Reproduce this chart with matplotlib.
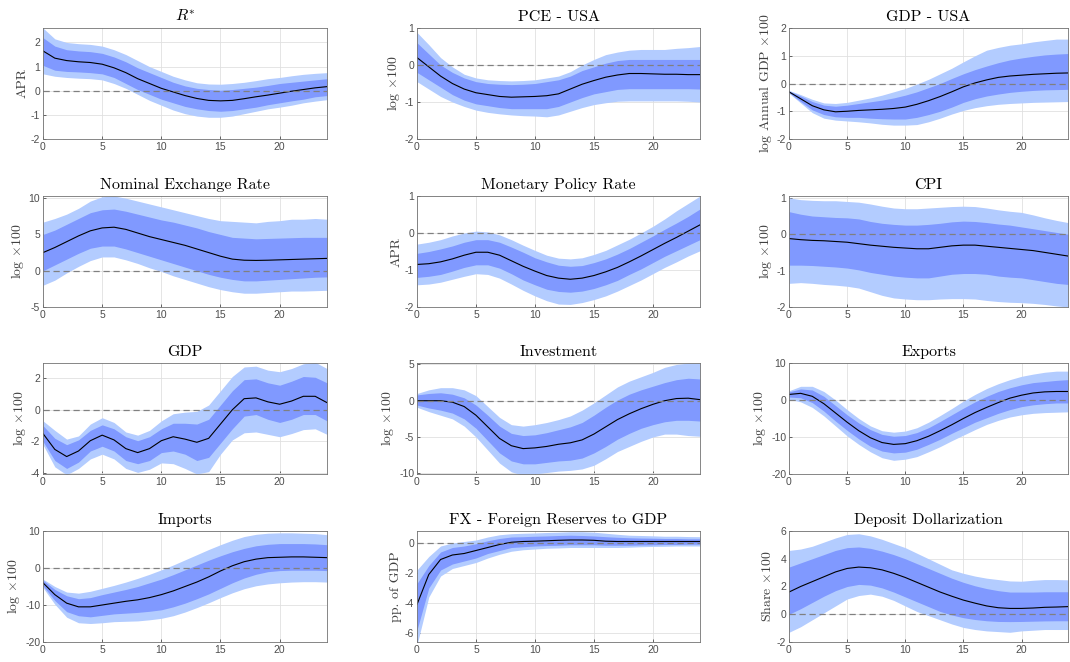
import numpy as np
import matplotlib
matplotlib.use("Agg")
import matplotlib.pyplot as plt

plt.rcParams["mathtext.fontset"] = "cm"
plt.rcParams["axes.unicode_minus"] = False
plt.rcParams["font.family"] = "Liberation Sans"

horizon = np.arange(25)

# --- R* ---
rstar_med = [1.65, 1.35, 1.25, 1.2, 1.17, 1.1, 0.95, 0.75, 0.5, 0.3, 0.1, -0.05, -0.2,
             -0.32, -0.4, -0.42, -0.4, -0.33, -0.25, -0.18, -0.1, -0.02, 0.05, 0.12, 0.17]
rstar_hi68 = [2.2, 1.85, 1.7, 1.65, 1.62, 1.55, 1.4, 1.2, 0.95, 0.75, 0.55, 0.35, 0.2,
              0.1, 0.05, 0.02, 0.05, 0.1, 0.15, 0.22, 0.3, 0.35, 0.4, 0.45, 0.5]
rstar_lo68 = [1.05, 0.85, 0.8, 0.78, 0.75, 0.7, 0.55, 0.3, 0.05, -0.15, -0.35, -0.5, -0.65,
              -0.75, -0.82, -0.85, -0.82, -0.75, -0.68, -0.58, -0.5, -0.42, -0.35, -0.25, -0.2]
rstar_hi90 = [2.6, 2.15, 2.0, 1.95, 1.92, 1.85, 1.7, 1.5, 1.25, 1.0, 0.8, 0.6, 0.45,
              0.33, 0.28, 0.27, 0.3, 0.35, 0.42, 0.5, 0.55, 0.62, 0.68, 0.72, 0.75]
rstar_lo90 = [0.7, 0.6, 0.55, 0.52, 0.5, 0.45, 0.3, 0.1, -0.15, -0.4, -0.6, -0.8, -0.95,
              -1.05, -1.1, -1.1, -1.05, -0.95, -0.85, -0.75, -0.68, -0.6, -0.5, -0.43, -0.37]

# --- PCE - USA ---
pce_med = [0.2, -0.05, -0.3, -0.5, -0.65, -0.75, -0.8, -0.85, -0.87, -0.86, -0.85, -0.83, -0.78,
           -0.65, -0.52, -0.42, -0.33, -0.27, -0.23, -0.23, -0.24, -0.25, -0.25, -0.26, -0.26]
pce_hi68 = [0.6, 0.3, 0.0, -0.2, -0.35, -0.45, -0.5, -0.52, -0.53, -0.52, -0.5, -0.45, -0.4,
            -0.3, -0.15, -0.05, 0.05, 0.12, 0.15, 0.15, 0.15, 0.15, 0.15, 0.15, 0.15]
pce_lo68 = [-0.2, -0.4, -0.6, -0.8, -0.95, -1.05, -1.1, -1.15, -1.18, -1.18, -1.18, -1.18, -1.12,
            -1.0, -0.88, -0.78, -0.72, -0.66, -0.64, -0.64, -0.64, -0.64, -0.64, -0.64, -0.65]
pce_hi90 = [0.88, 0.55, 0.2, -0.05, -0.25, -0.35, -0.4, -0.42, -0.43, -0.42, -0.4, -0.35, -0.3,
            -0.18, 0.0, 0.15, 0.28, 0.35, 0.4, 0.42, 0.42, 0.42, 0.45, 0.47, 0.5]
pce_lo90 = [-0.45, -0.65, -0.85, -1.0, -1.12, -1.22, -1.28, -1.32, -1.35, -1.37, -1.38, -1.4, -1.35,
            -1.25, -1.15, -1.07, -1.02, -0.98, -0.97, -0.97, -0.97, -0.97, -0.97, -0.98, -1.0]

# --- GDP - USA ---
gdpus_med = [-0.3, -0.55, -0.8, -0.95, -1.02, -1.0, -0.97, -0.95, -0.93, -0.9, -0.85, -0.75, -0.62,
             -0.47, -0.3, -0.12, 0.02, 0.13, 0.22, 0.27, 0.3, 0.33, 0.35, 0.37, 0.38]
gdpus_hi68 = [-0.27, -0.45, -0.65, -0.78, -0.82, -0.78, -0.72, -0.66, -0.6, -0.52, -0.42, -0.3, -0.15,
              0.0, 0.18, 0.35, 0.5, 0.63, 0.75, 0.85, 0.92, 0.98, 1.03, 1.06, 1.08]
gdpus_lo68 = [-0.33, -0.65, -0.95, -1.12, -1.2, -1.22, -1.22, -1.25, -1.27, -1.28, -1.28, -1.22, -1.12,
              -1.0, -0.85, -0.68, -0.55, -0.45, -0.38, -0.32, -0.28, -0.25, -0.23, -0.22, -0.21]
gdpus_hi90 = [-0.25, -0.4, -0.57, -0.7, -0.72, -0.68, -0.6, -0.52, -0.42, -0.3, -0.18, -0.02, 0.15,
              0.35, 0.55, 0.78, 1.0, 1.2, 1.3, 1.38, 1.43, 1.5, 1.55, 1.6, 1.6]
gdpus_lo90 = [-0.35, -0.7, -1.05, -1.25, -1.32, -1.35, -1.38, -1.42, -1.47, -1.5, -1.5, -1.48, -1.38,
              -1.25, -1.1, -0.97, -0.87, -0.8, -0.75, -0.72, -0.7, -0.68, -0.67, -0.66, -0.65]

# --- Nominal Exchange Rate ---
ner_med = [2.5, 3.2, 4.0, 4.8, 5.5, 5.9, 6.0, 5.7, 5.2, 4.7, 4.3, 3.9, 3.5,
           3.0, 2.5, 2.0, 1.6, 1.45, 1.42, 1.45, 1.5, 1.55, 1.6, 1.65, 1.7]
ner_hi68 = [5.0, 5.6, 6.4, 7.2, 8.0, 8.4, 8.5, 8.2, 7.8, 7.4, 7.0, 6.7, 6.3,
            5.9, 5.4, 5.0, 4.6, 4.5, 4.4, 4.45, 4.5, 4.55, 4.6, 4.6, 4.6]
ner_lo68 = [0.0, 0.8, 1.6, 2.4, 3.1, 3.4, 3.4, 3.0, 2.5, 2.0, 1.5, 1.0, 0.5,
            0.0, -0.5, -0.9, -1.2, -1.4, -1.4, -1.3, -1.2, -1.1, -1.0, -0.9, -0.85]
ner_hi90 = [6.7, 7.2, 7.8, 8.6, 9.6, 10.2, 10.3, 10.0, 9.6, 9.2, 8.8, 8.4, 8.0,
            7.6, 7.2, 6.9, 6.8, 6.7, 6.6, 6.8, 6.9, 7.1, 7.1, 7.2, 7.1]
ner_lo90 = [-2.0, -1.3, -0.3, 0.6, 1.4, 1.9, 1.9, 1.5, 1.0, 0.4, -0.1, -0.7, -1.2,
            -1.7, -2.2, -2.6, -2.9, -3.1, -3.1, -3.0, -2.9, -2.8, -2.8, -2.75, -2.7]

# --- Monetary Policy Rate ---
mpr_med = [-0.85, -0.83, -0.78, -0.7, -0.6, -0.52, -0.52, -0.6, -0.75, -0.9, -1.03, -1.15, -1.22,
           -1.25, -1.22, -1.15, -1.05, -0.93, -0.78, -0.62, -0.45, -0.28, -0.12, 0.05, 0.22]
mpr_hi68 = [-0.55, -0.5, -0.43, -0.35, -0.25, -0.18, -0.18, -0.25, -0.38, -0.52, -0.67, -0.78, -0.87,
            -0.9, -0.88, -0.8, -0.7, -0.57, -0.42, -0.25, -0.08, 0.1, 0.27, 0.45, 0.65]
mpr_lo68 = [-1.2, -1.17, -1.12, -1.03, -0.93, -0.86, -0.86, -0.95, -1.1, -1.27, -1.4, -1.52, -1.58,
            -1.6, -1.57, -1.5, -1.4, -1.28, -1.12, -0.97, -0.8, -0.63, -0.48, -0.33, -0.18]
mpr_hi90 = [-0.3, -0.25, -0.18, -0.08, 0.0, 0.05, 0.03, -0.05, -0.18, -0.33, -0.47, -0.6, -0.68,
            -0.7, -0.67, -0.58, -0.47, -0.32, -0.17, 0.0, 0.18, 0.38, 0.6, 0.8, 1.0]
mpr_lo90 = [-1.4, -1.38, -1.33, -1.25, -1.17, -1.1, -1.12, -1.22, -1.38, -1.55, -1.7, -1.83, -1.92,
            -1.93, -1.88, -1.8, -1.7, -1.57, -1.42, -1.27, -1.1, -0.93, -0.78, -0.62, -0.48]

# --- CPI ---
cpi_med = [-0.12, -0.15, -0.17, -0.18, -0.2, -0.22, -0.26, -0.3, -0.33, -0.36, -0.38, -0.4, -0.4,
           -0.36, -0.32, -0.3, -0.3, -0.33, -0.36, -0.39, -0.42, -0.45, -0.5, -0.55, -0.6]
cpi_hi68 = [0.62, 0.55, 0.5, 0.48, 0.46, 0.45, 0.42, 0.35, 0.3, 0.27, 0.25, 0.25, 0.27,
            0.3, 0.34, 0.36, 0.35, 0.32, 0.28, 0.25, 0.2, 0.15, 0.1, 0.05, 0.0]
cpi_lo68 = [-0.85, -0.85, -0.86, -0.88, -0.9, -0.93, -0.98, -1.05, -1.1, -1.15, -1.18, -1.2, -1.2,
            -1.15, -1.1, -1.08, -1.08, -1.1, -1.15, -1.18, -1.2, -1.25, -1.3, -1.35, -1.38]
cpi_hi90 = [1.0, 0.95, 0.93, 0.92, 0.92, 0.9, 0.88, 0.83, 0.77, 0.72, 0.7, 0.7, 0.72,
            0.74, 0.76, 0.77, 0.76, 0.72, 0.67, 0.63, 0.6, 0.53, 0.45, 0.38, 0.32]
cpi_lo90 = [-1.35, -1.33, -1.35, -1.38, -1.4, -1.43, -1.48, -1.58, -1.68, -1.75, -1.78, -1.8, -1.8,
            -1.78, -1.77, -1.77, -1.78, -1.82, -1.85, -1.87, -1.88, -1.9, -1.93, -1.97, -2.0]

# --- GDP ---
gdp_med = [-1.5, -2.5, -2.95, -2.6, -1.95, -1.6, -1.9, -2.45, -2.7, -2.45, -1.95, -1.7, -1.85,
           -2.05, -1.8, -0.9, 0.0, 0.7, 0.75, 0.5, 0.35, 0.55, 0.85, 0.85, 0.45]
gdp_hi68 = [-1.0, -1.8, -2.2, -1.9, -1.3, -0.95, -1.2, -1.7, -1.95, -1.7, -1.2, -0.85, -0.85,
            -0.9, -0.6, 0.3, 1.2, 1.9, 1.95, 1.7, 1.55, 1.8, 2.1, 2.05, 1.7]
gdp_lo68 = [-2.0, -3.2, -3.7, -3.3, -2.6, -2.3, -2.6, -3.2, -3.4, -3.2, -2.7, -2.6, -2.8,
            -3.2, -3.0, -2.1, -1.2, -0.4, -0.3, -0.6, -0.8, -0.6, -0.3, -0.3, -0.7]
gdp_hi90 = [-0.7, -1.3, -1.85, -1.65, -0.9, -0.5, -0.8, -1.4, -1.6, -1.3, -0.7, -0.25, -0.15,
            -0.1, 0.3, 1.2, 2.1, 2.7, 2.75, 2.5, 2.4, 2.6, 2.9, 3.0, 2.6]
gdp_lo90 = [-2.2, -3.6, -4.1, -3.7, -3.1, -2.8, -3.1, -3.7, -3.95, -3.75, -3.35, -3.4, -3.7,
            -4.05, -3.9, -2.8, -1.9, -1.45, -1.4, -1.55, -1.7, -1.5, -1.25, -1.2, -1.55]

# --- Investment ---
inv_med = [0.0, 0.0, 0.0, -0.2, -0.8, -2.0, -3.6, -5.2, -6.2, -6.6, -6.5, -6.3, -6.0,
           -5.8, -5.4, -4.6, -3.6, -2.6, -1.8, -1.1, -0.5, 0.0, 0.3, 0.35, 0.15]
inv_hi68 = [0.8, 1.0, 1.1, 0.9, 0.4, -0.6, -2.0, -3.5, -4.5, -4.8, -4.7, -4.4, -4.0,
            -3.6, -3.0, -2.0, -0.9, 0.1, 0.9, 1.5, 2.0, 2.5, 2.9, 3.1, 3.0]
inv_lo68 = [-0.6, -1.0, -1.3, -1.7, -2.5, -3.8, -5.5, -7.2, -8.3, -8.7, -8.7, -8.5, -8.3,
            -8.2, -7.9, -7.2, -6.3, -5.3, -4.5, -3.8, -3.3, -2.9, -2.7, -2.7, -2.8]
inv_hi90 = [1.0, 1.5, 1.8, 1.8, 1.5, 0.7, -0.8, -2.3, -3.3, -3.5, -3.3, -3.0, -2.6,
            -2.1, -1.3, -0.3, 0.8, 1.9, 2.7, 3.3, 3.9, 4.6, 5.0, 5.2, 5.2]
inv_lo90 = [-0.9, -1.5, -2.0, -2.5, -3.5, -5.0, -6.8, -8.6, -9.8, -10.3, -10.1, -9.9, -9.7,
            -9.6, -9.4, -8.9, -8.0, -7.0, -6.3, -5.6, -5.0, -4.6, -4.6, -4.8, -4.9]

# --- Exports ---
exp_med = [1.5, 1.8, 1.0, -1.0, -3.5, -6.0, -8.3, -10.2, -11.5, -12.0, -11.8, -11.0, -9.8,
           -8.3, -6.7, -5.0, -3.4, -2.0, -0.7, 0.5, 1.3, 1.9, 2.2, 2.3, 2.3]
exp_hi68 = [2.2, 3.0, 2.7, 1.0, -1.5, -4.0, -6.2, -8.0, -9.3, -9.8, -9.6, -8.8, -7.5,
            -5.8, -4.0, -2.2, -0.5, 1.0, 2.3, 3.3, 4.1, 4.7, 5.0, 5.3, 5.5]
exp_lo68 = [0.8, 0.6, -0.7, -3.0, -5.7, -8.2, -10.5, -12.5, -13.8, -14.3, -14.1, -13.3, -12.0,
            -10.6, -9.0, -7.5, -6.0, -4.8, -3.6, -2.6, -1.8, -1.3, -1.0, -0.8, -0.8]
exp_hi90 = [2.5, 3.7, 3.7, 2.3, 0.0, -2.6, -5.0, -7.0, -8.3, -8.7, -8.4, -7.5, -6.0,
            -4.2, -2.3, -0.3, 1.5, 3.1, 4.4, 5.5, 6.4, 7.0, 7.5, 7.8, 7.8]
exp_lo90 = [0.2, -0.5, -2.0, -4.3, -7.0, -9.7, -12.0, -14.0, -15.6, -16.3, -16.0, -15.3, -14.0,
            -12.6, -11.0, -9.5, -8.0, -6.6, -5.5, -4.6, -4.0, -3.6, -3.4, -3.3, -3.2]

# --- Imports ---
imp_med = [-4.0, -7.2, -9.5, -10.5, -10.5, -10.0, -9.5, -9.0, -8.6, -8.0, -7.2, -6.2, -5.0,
           -3.8, -2.4, -0.8, 0.6, 1.7, 2.4, 2.8, 2.9, 3.0, 3.0, 2.9, 2.8]
imp_hi68 = [-3.3, -5.8, -7.5, -8.3, -8.0, -7.2, -6.5, -5.8, -5.0, -4.0, -3.0, -1.8, -0.5,
            0.8, 2.1, 3.3, 4.4, 5.3, 6.0, 6.4, 6.6, 6.6, 6.6, 6.5, 6.3]
imp_lo68 = [-4.8, -8.8, -11.8, -12.9, -13.2, -12.8, -12.4, -12.2, -12.0, -11.7, -11.3, -10.5, -9.5,
            -8.3, -7.0, -5.5, -4.0, -2.7, -1.7, -1.0, -0.7, -0.6, -0.6, -0.6, -0.7]
imp_hi90 = [-3.0, -5.0, -6.5, -6.8, -6.3, -5.5, -4.7, -3.8, -2.8, -1.7, -0.5, 0.8, 2.2,
            3.6, 5.0, 6.3, 7.5, 8.5, 9.1, 9.4, 9.5, 9.5, 9.4, 9.3, 9.0]
imp_lo90 = [-5.3, -9.8, -13.3, -14.8, -15.0, -14.8, -14.5, -14.4, -14.3, -14.0, -13.6, -12.9, -11.9,
            -10.7, -9.4, -8.0, -6.7, -5.6, -4.8, -4.3, -4.0, -3.8, -3.7, -3.7, -3.8]

# --- FX - Foreign Reserves to GDP ---
fxr_med = [-4.1, -2.1, -1.1, -0.8, -0.7, -0.5, -0.3, -0.1, 0.05, 0.1, 0.12, 0.15, 0.18,
           0.2, 0.2, 0.18, 0.12, 0.1, 0.1, 0.1, 0.1, 0.1, 0.1, 0.1, 0.1]
fxr_hi68 = [-2.7, -1.5, -0.6, -0.3, -0.2, -0.05, 0.15, 0.3, 0.4, 0.42, 0.45, 0.47, 0.5,
            0.52, 0.5, 0.47, 0.42, 0.38, 0.35, 0.33, 0.32, 0.3, 0.3, 0.28, 0.28]
fxr_lo68 = [-5.8, -3.0, -1.8, -1.4, -1.2, -1.0, -0.7, -0.5, -0.3, -0.25, -0.2, -0.17, -0.15,
            -0.12, -0.12, -0.12, -0.15, -0.15, -0.15, -0.13, -0.12, -0.1, -0.1, -0.08, -0.08]
fxr_hi90 = [-1.8, -0.9, -0.2, 0.0, 0.1, 0.2, 0.4, 0.55, 0.62, 0.65, 0.67, 0.7, 0.72,
            0.75, 0.75, 0.72, 0.65, 0.58, 0.52, 0.5, 0.48, 0.45, 0.45, 0.43, 0.42]
fxr_lo90 = [-6.8, -3.6, -2.2, -1.7, -1.5, -1.3, -1.0, -0.75, -0.55, -0.45, -0.4, -0.35, -0.33,
            -0.3, -0.3, -0.3, -0.3, -0.3, -0.28, -0.25, -0.23, -0.22, -0.2, -0.2, -0.2]

# --- Deposit Dollarization ---
dd_med = [1.6, 2.0, 2.35, 2.7, 3.05, 3.3, 3.4, 3.35, 3.2, 2.95, 2.65, 2.3, 1.95,
          1.6, 1.3, 1.02, 0.8, 0.6, 0.47, 0.42, 0.42, 0.45, 0.5, 0.52, 0.55]
dd_hi68 = [3.4, 3.7, 4.0, 4.3, 4.6, 4.8, 4.85, 4.75, 4.55, 4.3, 4.0, 3.65, 3.3,
           2.95, 2.6, 2.3, 2.05, 1.85, 1.7, 1.6, 1.6, 1.6, 1.62, 1.62, 1.62]
dd_lo68 = [0.0, 0.4, 0.85, 1.3, 1.7, 2.0, 2.15, 2.1, 1.9, 1.6, 1.25, 0.9, 0.55,
           0.2, -0.05, -0.25, -0.38, -0.47, -0.52, -0.53, -0.52, -0.5, -0.48, -0.47, -0.47]
dd_hi90 = [4.6, 4.7, 4.9, 5.2, 5.5, 5.75, 5.8, 5.65, 5.4, 5.1, 4.8, 4.4, 4.0,
           3.6, 3.2, 2.95, 2.75, 2.6, 2.5, 2.4, 2.38, 2.45, 2.5, 2.5, 2.48]
dd_lo90 = [-1.3, -0.9, -0.4, 0.1, 0.6, 1.1, 1.35, 1.45, 1.3, 1.0, 0.6, 0.2, -0.1,
           -0.4, -0.7, -0.95, -1.1, -1.2, -1.25, -1.3, -1.2, -1.15, -1.1, -1.1, -1.1]

LOGX100 = r"log $\times$100"

panels = [
    (r"$R^{*}$", "APR", rstar_med, rstar_lo68, rstar_hi68, rstar_lo90, rstar_hi90, (-2, 2.6), [-2, -1, 0, 1, 2]),
    ("PCE - USA", LOGX100, pce_med, pce_lo68, pce_hi68, pce_lo90, pce_hi90, (-2, 1), [-2, -1, 0, 1]),
    ("GDP - USA", r"log Annual GDP $\times$100", gdpus_med, gdpus_lo68, gdpus_hi68, gdpus_lo90, gdpus_hi90, (-2, 2), [-2, -1, 0, 1, 2]),
    ("Nominal Exchange Rate", LOGX100, ner_med, ner_lo68, ner_hi68, ner_lo90, ner_hi90, (-5, 10.3), [-5, 0, 5, 10]),
    ("Monetary Policy Rate", "APR", mpr_med, mpr_lo68, mpr_hi68, mpr_lo90, mpr_hi90, (-2, 1), [-2, -1, 0, 1]),
    ("CPI", LOGX100, cpi_med, cpi_lo68, cpi_hi68, cpi_lo90, cpi_hi90, (-2, 1.05), [-2, -1, 0, 1]),
    ("GDP", LOGX100, gdp_med, gdp_lo68, gdp_hi68, gdp_lo90, gdp_hi90, (-4.05, 2.95), [-4, -2, 0, 2]),
    ("Investment", LOGX100, inv_med, inv_lo68, inv_hi68, inv_lo90, inv_hi90, (-10.1, 5.2), [-10, -5, 0, 5]),
    ("Exports", LOGX100, exp_med, exp_lo68, exp_hi68, exp_lo90, exp_hi90, (-20, 10), [-20, -10, 0, 10]),
    ("Imports", LOGX100, imp_med, imp_lo68, imp_hi68, imp_lo90, imp_hi90, (-20, 10), [-20, -10, 0, 10]),
    ("FX - Foreign Reserves to GDP", "pp. of GDP", fxr_med, fxr_lo68, fxr_hi68, fxr_lo90, fxr_hi90, (-6.6, 0.8), [-6, -4, -2, 0]),
    ("Deposit Dollarization", r"Share $\times$100", dd_med, dd_lo68, dd_hi68, dd_lo90, dd_hi90, (-2, 6), [-2, 0, 2, 4, 6]),
]

LIGHT = (0.70, 0.80, 1.0)
DARK = (0.50, 0.60, 1.0)
W, H = 1070, 662

fig = plt.figure(figsize=(W / 100, H / 100), dpi=100)

col_left = [43, 417, 789]
col_width = [284, 283, 279]
row_top = [28, 196, 363, 531]
ax_h = 111

for i, (title, ylabel, med, lo68, hi68, lo90, hi90, ylim, yticks) in enumerate(panels):
    r, c = divmod(i, 3)
    ax = fig.add_axes([col_left[c] / W, 1 - (row_top[r] + ax_h) / H, col_width[c] / W, ax_h / H])
    ax.set_axisbelow(True)
    ax.fill_between(horizon, lo90, hi90, color=LIGHT, lw=0, zorder=1)
    ax.fill_between(horizon, lo68, hi68, color=DARK, lw=0, zorder=2)
    ax.plot(horizon, med, color="black", lw=0.8, zorder=3)
    ax.axhline(0, color="0.5", lw=0.9, ls=(0, (5, 3)), zorder=4)

    ax.set_xlim(0, 24)
    ax.set_ylim(*ylim)
    ax.set_xticks([0, 5, 10, 15, 20])
    ax.set_yticks(yticks)
    ax.grid(True, color="0.88", lw=0.6)
    ax.tick_params(direction="in", length=2.5, width=0.6, labelsize=7.5,
                   colors="0.3", pad=2)
    for sp in ax.spines.values():
        sp.set_color("0.45")
        sp.set_linewidth(0.6)
        sp.set_zorder(5)

    ax.set_title(title, fontfamily="cmr10", fontsize=11.5, pad=5)
    ax.set_ylabel(ylabel, fontfamily="cmr10", fontsize=10, color="0.25", labelpad=2)

fig.savefig("out.png", dpi=100)
